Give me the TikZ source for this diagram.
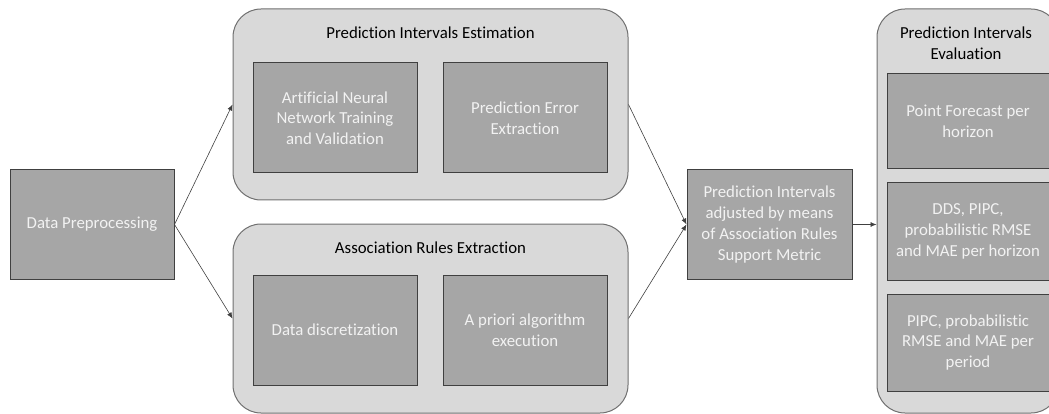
\documentclass[tikz,border=0pt]{standalone}
\usepackage{fontspec}
\setmainfont{Carlito}[Ligatures=NoCommon]
\usetikzlibrary{arrows.meta}

\definecolor{boxgray}{HTML}{A6A6A6}
\definecolor{panelgray}{HTML}{D9D9D9}
\definecolor{edgegray}{HTML}{404040}
\definecolor{rimgray}{HTML}{707070}
\definecolor{boxtext}{HTML}{F2F2F2}

\tikzset{
	stage/.style={rectangle, draw=edgegray, fill=boxgray, line width=1pt, text=boxtext, align=center, inner sep=2pt},
	panel/.style={rectangle, rounded corners=28pt, draw=rimgray, fill=panelgray, line width=1pt},
	paneltitle/.style={align=center, text=black},
	flow/.style={-{Latex[length=6pt,width=5pt]}, line width=0.6pt, draw=edgegray}
}

\begin{document}
\begin{tikzpicture}[x=1pt, y=-1pt, font=\fontsize{16.8}{20.7}\selectfont]
	\useasboundingbox (0,0) rectangle (1049,414);
	% containers
	\node[panel, minimum width=395pt, minimum height=191pt] (est) at (430.5,104.5) {};
	\node[panel, minimum width=395pt, minimum height=189pt] (ars) at (430.5,318.5) {};
	\node[panel, minimum width=182pt, minimum height=404pt] (eval) at (968,211) {};
	\node[paneltitle] (esttitle) at (430.5,33) {Prediction Intervals Estimation};
	\node[paneltitle] (arstitle) at (430.5,248) {Association Rules Extraction};
	\node[paneltitle] (evaltitle) at (966,43) {Prediction Intervals\\Evaluation};
	% steps
	\begin{scope}[every node/.append style={stage, minimum width=164pt}]
	\node[minimum height=109pt] (prep) at (92,224.5) {Data Preprocessing};
	\node[minimum height=110pt] (ann) at (335,118) {Artificial Neural\\Network Training\\and Validation};
	\node[minimum height=110pt] (err) at (525,118) {Prediction Error\\Extraction};
	\node[minimum height=110pt] (disc) at (335,330) {Data discretization};
	\node[minimum height=110pt] (apri) at (525,330) {A priori algorithm\\execution};
	\node[minimum width=165pt, minimum height=109pt] (adj) at (769.5,224.5) {Prediction Intervals\\adjusted by means\\of Association Rules\\Support Metric};
	\node[minimum width=162pt, minimum height=95pt] (pf) at (968,121.5) {Point Forecast per\\horizon};
	\node[minimum width=162pt, minimum height=97pt] (dds) at (968,231.5) {DDS, PIPC,\\probabilistic RMSE\\and MAE per horizon};
	\node[minimum width=162pt, minimum height=97pt] (pipc) at (968,342.5) {PIPC, probabilistic\\RMSE and MAE per\\period};
	\end{scope}
	% arrows
	\draw[flow] (prep.east) -- (est.west);
	\draw[flow] (prep.east) -- (ars.west);
	\draw[flow] (est.east) -- (adj.west);
	\draw[flow] (ars.east) -- (adj.west);
	\draw[flow] (adj.east) -- (adj.east -| eval.west);
\end{tikzpicture}
\end{document}
